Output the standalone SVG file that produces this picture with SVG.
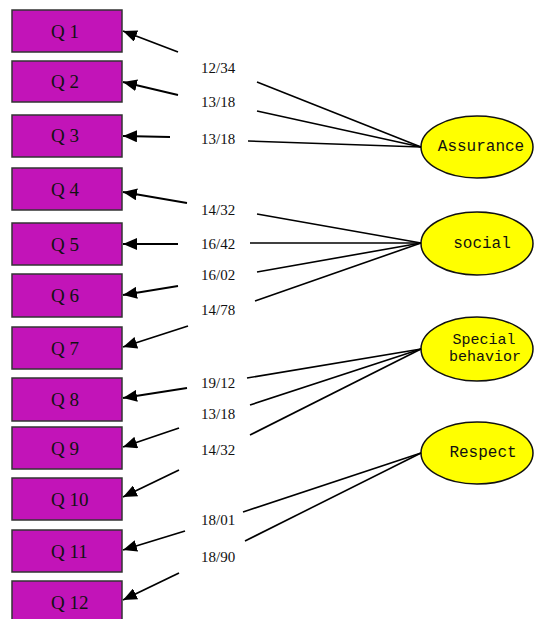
<svg xmlns="http://www.w3.org/2000/svg" width="534" height="619" viewBox="0 0 534 619">
<style>
.box{fill:#C214B8;stroke:#333333;stroke-width:1.5}
.q{font-family:"Liberation Serif",serif;font-size:19px;fill:#111111}
.lbl{font-family:"Liberation Serif",serif;font-size:15px;fill:#111111}
.ell{fill:#FFFF00;stroke:#111111;stroke-width:1.5}
.f{font-family:"Liberation Mono","DejaVu Sans Mono",monospace;font-size:16px;fill:#111111;text-anchor:middle}
.f2{font-size:15px}
.ar{stroke:#000;stroke-width:1.8;fill:none;marker-end:url(#ah)}
.ln{stroke:#000;stroke-width:1.6;fill:none}
</style>
<defs>
<marker id="ah" markerUnits="userSpaceOnUse" markerWidth="14" markerHeight="12" refX="14" refY="6" orient="auto">
<path d="M0,0 L14,6 L0,12 Z" fill="#000"/>
</marker>
</defs>
<rect width="534" height="619" fill="#ffffff"/>
<g id="Q1"><rect class="box" x="12" y="10" width="110" height="42"/><text class="q" x="51" y="38">Q 1</text></g>
<g id="Q2"><rect class="box" x="12" y="61" width="110" height="41"/><text class="q" x="51" y="88">Q 2</text></g>
<g id="Q3"><rect class="box" x="12" y="115" width="110" height="42"/><text class="q" x="51" y="142">Q 3</text></g>
<g id="Q4"><rect class="box" x="12" y="168" width="110" height="42"/><text class="q" x="51" y="196">Q 4</text></g>
<g id="Q5"><rect class="box" x="12" y="223" width="110" height="42"/><text class="q" x="51" y="251">Q 5</text></g>
<g id="Q6"><rect class="box" x="12" y="274" width="110" height="43"/><text class="q" x="51" y="302">Q 6</text></g>
<g id="Q7"><rect class="box" x="12" y="327" width="110" height="42"/><text class="q" x="51" y="355">Q 7</text></g>
<g id="Q8"><rect class="box" x="12" y="378" width="110" height="43"/><text class="q" x="51" y="406">Q 8</text></g>
<g id="Q9"><rect class="box" x="12" y="427" width="110" height="42"/><text class="q" x="51" y="455">Q 9</text></g>
<g id="Q10"><rect class="box" x="12" y="478" width="110" height="42"/><text class="q" x="51" y="506">Q 10</text></g>
<g id="Q11"><rect class="box" x="12" y="530" width="110" height="42"/><text class="q" x="51" y="558">Q 11</text></g>
<g id="Q12"><rect class="box" x="12" y="581" width="110" height="42"/><text class="q" x="51" y="609">Q 12</text></g>

<g id="Assurance"><ellipse class="ell" cx="477" cy="147" rx="56" ry="31"/><text class="f" x="481" y="151">Assurance</text></g>
<g id="social"><ellipse class="ell" cx="477" cy="243.5" rx="56" ry="31.5"/><text class="f" x="482" y="248">social</text></g>
<g id="Special"><ellipse class="ell" cx="477" cy="349" rx="56" ry="32"/><text class="f f2" x="484" y="344">Special</text><text class="f f2" x="485" y="361">behavior</text></g>
<g id="Respect"><ellipse class="ell" cx="477" cy="453" rx="56" ry="31"/><text class="f" x="483" y="457">Respect</text></g>

<g id="connectors">
<line class="ar" x1="178" y1="52" x2="123" y2="31"/>
<line class="ar" x1="178" y1="95" x2="123" y2="82"/>
<line class="ar" x1="170" y1="137" x2="123" y2="136"/>
<line class="ar" x1="187" y1="203" x2="123" y2="192"/>
<line class="ar" x1="178" y1="244" x2="123" y2="244"/>
<line class="ar" x1="178" y1="286" x2="123" y2="295"/>
<line class="ar" x1="188" y1="326" x2="123" y2="347"/>
<line class="ar" x1="187" y1="388" x2="123" y2="398"/>
<line class="ar" x1="179" y1="428" x2="123" y2="447"/>
<line class="ar" x1="179" y1="470" x2="123" y2="497"/>
<line class="ar" x1="185" y1="531" x2="123" y2="550"/>
<line class="ar" x1="179" y1="573" x2="123" y2="600"/>

<line class="ln" x1="257" y1="82" x2="421" y2="147"/>
<line class="ln" x1="257" y1="111" x2="421" y2="147"/>
<line class="ln" x1="248" y1="141" x2="421" y2="147"/>

<line class="ln" x1="257" y1="214" x2="421" y2="243"/>
<line class="ln" x1="250" y1="243" x2="421" y2="243"/>
<line class="ln" x1="257" y1="272" x2="421" y2="243"/>
<line class="ln" x1="255" y1="301" x2="421" y2="243"/>

<line class="ln" x1="247" y1="378" x2="421" y2="349"/>
<line class="ln" x1="250" y1="405" x2="421" y2="349"/>
<line class="ln" x1="250" y1="435" x2="421" y2="349"/>

<line class="ln" x1="243" y1="512" x2="421" y2="453"/>
<line class="ln" x1="245" y1="541" x2="421" y2="453"/>
</g>

<g id="labels">
<text class="lbl" x="201" y="73">12/34</text>
<text class="lbl" x="201" y="107">13/18</text>
<text class="lbl" x="201" y="144">13/18</text>
<text class="lbl" x="201" y="215">14/32</text>
<text class="lbl" x="201" y="249">16/42</text>
<text class="lbl" x="201" y="280">16/02</text>
<text class="lbl" x="201" y="315">14/78</text>
<text class="lbl" x="201" y="388">19/12</text>
<text class="lbl" x="201" y="419">13/18</text>
<text class="lbl" x="201" y="455">14/32</text>
<text class="lbl" x="201" y="525">18/01</text>
<text class="lbl" x="201" y="562">18/90</text>
</g>
</svg>
